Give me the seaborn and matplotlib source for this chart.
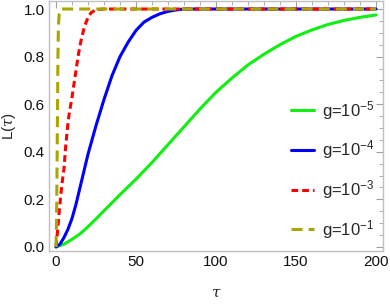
import numpy as np
import pandas as pd
import matplotlib
matplotlib.use("Agg")
import matplotlib.pyplot as plt
import seaborn as sns
from matplotlib.ticker import MultipleLocator

# ---- data ----
tau_g5 = [0, 5, 10, 15, 20, 25, 30, 40, 50, 60, 70, 80, 90, 100, 110, 120, 130, 140, 150, 160, 170, 180, 190, 200]
L_g5 = [0.0, 0.012, 0.032, 0.055, 0.085, 0.118, 0.152, 0.22, 0.285, 0.355, 0.43, 0.505, 0.58, 0.65, 0.71, 0.765, 0.81, 0.85, 0.885, 0.912, 0.935, 0.952, 0.965, 0.975]

tau_g4 = [0, 2.5, 5, 7.5, 10, 12.5, 15, 17.5, 20, 22.5, 25, 30, 35, 40, 45, 50, 55, 60, 65, 70, 75, 80, 90, 200]
L_g4 = [0.0, 0.012, 0.04, 0.075, 0.12, 0.18, 0.25, 0.32, 0.39, 0.45, 0.51, 0.62, 0.72, 0.80, 0.86, 0.91, 0.945, 0.965, 0.98, 0.99, 0.996, 1.0, 1.0, 1.0]

tau_g3 = [0, 1, 2, 3, 4, 5, 6, 7, 8, 10, 12, 14, 16, 18, 20, 22, 25, 30, 200]
L_g3 = [0.0, 0.07, 0.15, 0.22, 0.28, 0.33, 0.42, 0.49, 0.55, 0.63, 0.72, 0.81, 0.88, 0.93, 0.965, 0.985, 0.997, 1.0, 1.0]

tau_g1 = [0, 0.3, 0.6, 0.9, 1.2, 1.5, 2.0, 3.0, 200]
L_g1 = [0.0, 0.1, 0.3, 0.55, 0.8, 0.93, 0.98, 1.0, 1.0]

labels = ["g=10$^{-5}$", "g=10$^{-4}$", "g=10$^{-3}$", "g=10$^{-1}$"]
colors = ["#10F010", "#0000FF", "#FF0000", "#ABA500"]

x_major = [0, 50, 100, 150, 200]
y_major = [0.0, 0.2, 0.4, 0.6, 0.8, 1.0]

# ---- plotting ----
sns.set_style("white")
plt.rcParams["font.family"] = ["Liberation Sans", "DejaVu Sans"]
plt.rcParams["mathtext.fontset"] = "custom"
plt.rcParams["mathtext.rm"] = "Liberation Sans"
plt.rcParams["mathtext.it"] = "DejaVu Serif:italic"

fig = plt.figure(figsize=(3.9, 3.08), dpi=100)
ax = fig.add_axes([0.1256, 0.185, 0.8564, 0.812])

series = [(tau_g5, L_g5), (tau_g4, L_g4), (tau_g3, L_g3), (tau_g1, L_g1)]
styles = [dict(), dict(), dict(dashes=(2.2, 1.3)), dict(dashes=(3.6, 2.0))]
for (t, L), lab, c, st in zip(series, labels, colors, styles):
    df = pd.DataFrame({"tau": t, "L": L})
    sns.lineplot(data=df, x="tau", y="L", ax=ax, color=c, linewidth=2.2,
                 label=lab, **st)

ax.set_xlim(-4.4, 204.4)
ax.set_ylim(-0.017, 1.034)
ax.set_xticks(x_major)
ax.set_yticks(y_major)
ax.set_xticklabels([str(v) for v in x_major])
ax.set_yticklabels([f"{v:.1f}" for v in y_major])
ax.xaxis.set_minor_locator(MultipleLocator(10))
ax.yaxis.set_minor_locator(MultipleLocator(0.05))
ax.tick_params(which="both", direction="in", top=True, right=True,
               color="#A0A0A0", labelsize=11, labelcolor="#111111", pad=3)
ax.tick_params(which="major", length=5, width=0.8)
ax.tick_params(which="minor", length=2.8, width=0.6)
for s in ax.spines.values():
    s.set_color("#C0C0C0")
    s.set_linewidth(1.0)

ax.set_xlabel(r"$\tau$", fontsize=11, labelpad=12)
ax.set_ylabel(r"L($\tau$)", fontsize=11, labelpad=4)

leg = ax.legend(loc="center right", bbox_to_anchor=(1.0, 0.325), frameon=False,
                fontsize=12, handlelength=1.35, handletextpad=0.5,
                labelspacing=1.0, borderaxespad=0.1)

fig.savefig("out.png", dpi=100)
